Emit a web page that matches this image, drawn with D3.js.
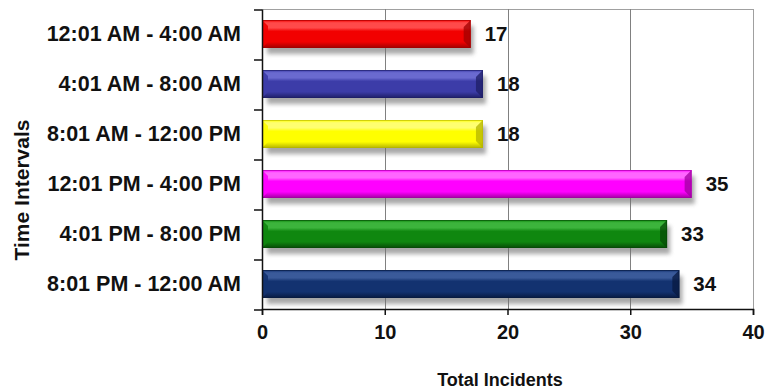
<!DOCTYPE html>
<html>
<head>
<meta charset="utf-8">
<script src="https://cdn.jsdelivr.net/npm/d3@7"></script>
<style>
  html, body { margin: 0; padding: 0; background: #fff; }
  svg { display: block; }
  text { font-family: "Liberation Sans", Arial, sans-serif; font-weight: bold; fill: #111; }
</style>
</head>
<body>
<svg id="chart" width="765" height="389"></svg>
<script>
// Incidents per four-hour time interval
const intervals = [
  "12:01 AM - 4:00 AM",
  "4:01 AM - 8:00 AM",
  "8:01 AM - 12:00 PM",
  "12:01 PM - 4:00 PM",
  "4:01 PM - 8:00 PM",
  "8:01 PM - 12:00 AM"
];
const incidents = [17, 18, 18, 35, 33, 34];
const xTicks = [0, 10, 20, 30, 40];

// base / highlight / shade for each bar's bevel
const barColors = [
  { base: "#f20000", light: "#ff4a4a", dark: "#a00000" },
  { base: "#3c3ca8", light: "#6a6ad0", dark: "#1e1e66" },
  { base: "#ffff00", light: "#ffff70", dark: "#b4b400" },
  { base: "#ff00ff", light: "#ff66ff", dark: "#a000a0" },
  { base: "#0f870f", light: "#3cb43c", dark: "#064a06" },
  { base: "#133270", light: "#3a5a9a", dark: "#081a40" }
];

const svg = d3.select("#chart");
const plotL = 262, plotR = 753, plotT = 9, plotB = 309;

const x = d3.scaleLinear().domain([0, 40]).range([plotL, plotR]);
const y = d3.scaleBand().domain(intervals).range([plotT, plotB]).paddingInner(0.44).paddingOuter(0.22);

const defs = svg.append("defs");
const blur = defs.append("filter").attr("id", "shadowBlur")
  .attr("x", "-10%").attr("y", "-50%").attr("width", "120%").attr("height", "200%");
blur.append("feGaussianBlur").attr("stdDeviation", 2.2);

barColors.forEach((c, i) => {
  const g = defs.append("linearGradient").attr("id", "grad" + i)
    .attr("x1", 0).attr("y1", 0).attr("x2", 0).attr("y2", 1);
  [[0, c.base], [0.1, c.light], [0.28, c.light], [0.4, c.base], [0.78, c.base], [1, c.dark]]
    .forEach(([o, col]) => g.append("stop").attr("offset", o).attr("stop-color", col));
});

// plot frame and vertical grid
svg.append("line").attr("x1", plotL).attr("x2", plotR).attr("y1", plotT + 0.5).attr("y2", plotT + 0.5)
  .attr("stroke", "#a0a0a0");
svg.append("line").attr("x1", plotR + 0.5).attr("x2", plotR + 0.5).attr("y1", plotT).attr("y2", plotB)
  .attr("stroke", "#a0a0a0");
svg.append("g").selectAll("line").data(xTicks.slice(1, -1)).join("line")
  .attr("x1", d => Math.round(x(d)) + 0.5).attr("x2", d => Math.round(x(d)) + 0.5)
  .attr("y1", plotT).attr("y2", plotB)
  .attr("stroke", "#808080");

const data = intervals.map((k, i) => ({ k, v: incidents[i], i }));
const bh = y.bandwidth();

// drop shadows
svg.append("g").selectAll("rect").data(data).join("rect")
  .attr("x", plotL + 5).attr("y", d => y(d.k) + 6)
  .attr("width", d => x(d.v) - plotL - 2).attr("height", bh)
  .attr("fill", "#707070").attr("opacity", 0.6)
  .attr("filter", "url(#shadowBlur)");

// bevelled bars
const bars = svg.append("g").selectAll("g").data(data).join("g");
bars.append("rect")
  .attr("x", plotL).attr("y", d => y(d.k))
  .attr("width", d => x(d.v) - plotL).attr("height", bh)
  .attr("fill", d => `url(#grad${d.i})`);
// right end cap
bars.append("path")
  .attr("d", d => {
    const x1 = x(d.v), y0 = y(d.k), b = 7;
    return `M${x1},${y0}L${x1 - b},${y0 + b}L${x1 - b},${y0 + bh - b}L${x1},${y0 + bh}Z`;
  })
  .attr("fill", d => barColors[d.i].dark).attr("opacity", 0.75);
// left end cap
bars.append("path")
  .attr("d", d => {
    const x0 = plotL, y0 = y(d.k), b = 6;
    return `M${x0},${y0}L${x0 + b},${y0 + b}L${x0 + b},${y0 + bh - b}L${x0},${y0 + bh}Z`;
  })
  .attr("fill", d => barColors[d.i].base).attr("opacity", 0.9);
bars.append("rect")
  .attr("x", plotL + 0.5).attr("y", d => y(d.k) + 0.5)
  .attr("width", d => x(d.v) - plotL - 1).attr("height", bh - 1)
  .attr("fill", "none").attr("stroke", d => barColors[d.i].dark).attr("stroke-opacity", 0.6);

// value labels
svg.append("g").selectAll("text").data(data).join("text")
  .attr("x", d => x(d.v) + 14).attr("y", d => y(d.k) + bh / 2)
  .attr("dy", "0.36em").attr("font-size", 20.5)
  .text(d => d.v);

// axes
const xAxis = svg.append("g").attr("transform", `translate(0,${plotB})`)
  .call(d3.axisBottom(x).tickValues(xTicks).tickSize(6).tickPadding(10));
xAxis.selectAll("text").attr("font-size", 20).attr("font-family", null).attr("fill", "#111");
xAxis.select(".domain").attr("stroke", "#111").attr("stroke-width", 1.5);
xAxis.selectAll(".tick line").attr("stroke", "#111").attr("stroke-width", 1.5);

const yAxis = svg.append("g").attr("transform", `translate(${plotL},0)`)
  .call(d3.axisLeft(y).tickSize(0).tickPadding(21));
yAxis.selectAll("text").attr("font-size", 21.5).attr("font-family", null).attr("fill", "#111");
yAxis.select(".domain").attr("stroke", "#111").attr("stroke-width", 1.5);
// tick marks on the band boundaries
yAxis.append("g").selectAll("line").data(d3.range(intervals.length + 1)).join("line")
  .attr("x1", -8).attr("x2", 0)
  .attr("y1", i => plotT + 1 + i * y.step())
  .attr("y2", i => plotT + 1 + i * y.step())
  .attr("stroke", "#111").attr("stroke-width", 1.5);

// axis titles
svg.append("text").attr("x", 500).attr("y", 386).attr("text-anchor", "middle")
  .attr("font-size", 18).text("Total Incidents");
svg.append("text").attr("transform", "translate(29,190) rotate(-90)").attr("text-anchor", "middle")
  .attr("font-size", 21).text("Time Intervals");
</script>
</body>
</html>
